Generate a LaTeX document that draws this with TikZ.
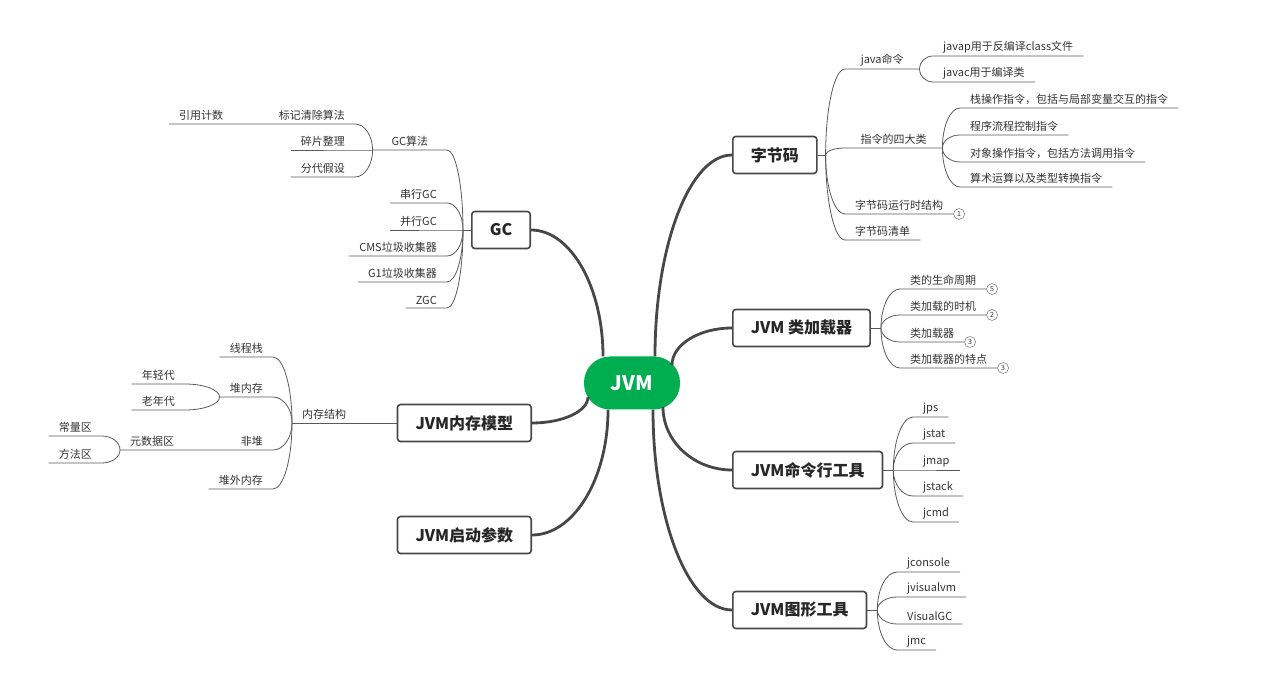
\documentclass[tikz,border=0pt]{standalone}
\usepackage{fontspec}
\setmainfont{Noto Sans CJK SC}
\usetikzlibrary{shapes,positioning,calc}

\definecolor{jvmgreen}{HTML}{00AE50}
\definecolor{trunkc}{HTML}{474747}
\definecolor{linec}{HTML}{5A5A5A}
\definecolor{textc}{HTML}{333333}

\tikzset{
  root/.style={fill=jvmgreen, rounded corners=26pt, minimum width=96pt, minimum height=53pt, text=white, font=\fontsize{20}{24}\selectfont\bfseries},
  topic/.style={draw=trunkc, line width=1.6pt, fill=white, rounded corners=3pt, minimum height=37pt, inner xsep=18pt, text=black!85, font=\fontsize{16}{19}\selectfont\bfseries},
  leaf/.style={inner xsep=10pt, inner ysep=3pt, text=textc, font=\fontsize{11}{13}\selectfont},
  leafR/.style={leaf, anchor=south west},
  leafL/.style={leaf, anchor=south east},
  num/.style={circle, draw=linec, fill=white, inner sep=0pt, minimum size=11pt, text=textc, font=\fontsize{7}{8}\selectfont},
  trunk/.style={draw=trunkc, line width=2.8pt},
  branch/.style={draw=linec, line width=0.8pt},
  fan/.style={to path={.. controls ($(\tikztostart)!0.55!(\tikztostart |- \tikztotarget)$) and ($(\tikztotarget)!0.55!(\tikztostart |- \tikztotarget)$) .. (\tikztotarget) \tikztonodes}},
}

\begin{document}
\begin{tikzpicture}[x=1pt, y=1pt]
\useasboundingbox (0,0) rectangle (1272,-684);
% 中心与主题
\node[root] (jvm) at (632,-383) {JVM};
\node[topic, anchor=west] (zjm) at (732,-155) {字节码};
\node[topic, anchor=west] (loader) at (732,-328) {JVM 类加载器};
\node[topic, anchor=west] (cmdtool) at (732,-470) {JVM命令行工具};
\node[topic, anchor=west] (guitool) at (732,-610) {JVM图形工具};
\node[topic, anchor=east] (gc) at (531,-230) {GC};
\node[topic, anchor=east] (mem) at (532,-423) {JVM内存模型};
\node[topic, anchor=east] (param) at (532,-535) {JVM启动参数};

\coordinate (s1) at ([xshift=23pt]jvm.north);
\coordinate (s2) at ([shift={(40pt,18pt)}]jvm.center);
\coordinate (s3) at ([shift={(31pt,-24pt)}]jvm.center);
\coordinate (s4) at ([xshift=21pt]jvm.south);
\coordinate (s5) at ([xshift=-29pt]jvm.north);
\coordinate (s6) at ([shift={(-44pt,-14pt)}]jvm.center);
\coordinate (s7) at ([xshift=-24pt]jvm.south);

% 主干
\draw[trunk] (s1) to[fan] (zjm.west);
\draw[trunk] (s2) to[fan] (loader.west);
\draw[trunk] (s3) to[fan] (cmdtool.west);
\draw[trunk] (s4) to[fan] (guitool.west);
\draw[trunk] (s5) to[fan] (gc.east);
\draw[trunk] (s6) to[fan] (mem.east);
\draw[trunk] (s7) to[fan] (param.east);

% 字节码
\coordinate (zjmfan) at ([xshift=8pt]zjm.east);
\node[leafR, minimum width=74pt] (javacmd) at (845,-69) {java命令};
\node[leafR, minimum width=97pt] (zlsd) at (845,-148) {指令的四大类};
\node[leafR] (yxsj) at (845,-214) {字节码运行时结构};
\node[leafR] (zjmqd) at (845,-240) {字节码清单};
\node[leafR] (javap) at (933,-56) {javap用于反编译class文件};
\node[leafR] (javac) at (933,-82) {javac用于编译类};
\node[leafR] (zl1) at (960,-108) {栈操作指令，包括与局部变量交互的指令};
\node[leafR] (zl2) at (960,-135) {程序流程控制指令};
\node[leafR] (zl3) at (960,-162) {对象操作指令，包括方法调用指令};
\node[leafR] (zl4) at (960,-187) {算术运算以及类型转换指令};
\node[num, right=0pt of yxsj.south east] (n1) {1};

\draw[branch] (zjm.east) -- (zjmfan);
\draw[branch] (zjmfan) to[fan] (javacmd.south west) -- (javacmd.south east);
\draw[branch] (zjmfan) to[fan] (zlsd.south west) -- (zlsd.south east);
\draw[branch] (zjmfan) to[fan] (yxsj.south west) -- (yxsj.south east);
\draw[branch] (zjmfan) to[fan] (zjmqd.south west) -- (zjmqd.south east);
\draw[branch] (javacmd.south east) to[fan] (javap.south west) -- (javap.south east);
\draw[branch] (javacmd.south east) to[fan] (javac.south west) -- (javac.south east);
\draw[branch] (zlsd.south east) to[fan] (zl1.south west) -- (zl1.south east);
\draw[branch] (zlsd.south east) to[fan] (zl2.south west) -- (zl2.south east);
\draw[branch] (zlsd.south east) to[fan] (zl3.south west) -- (zl3.south east);
\draw[branch] (zlsd.south east) to[fan] (zl4.south west) -- (zl4.south east);

% 类加载器
\coordinate (ldfan) at ([xshift=10pt]loader.east);
\node[leafR] (smzq) at (900,-289) {类的生命周期};
\node[leafR] (jzsj) at (900,-315) {类加载的时机};
\node[leafR] (jzq) at (900,-342) {类加载器};
\node[leafR] (jztd) at (900,-368) {类加载器的特点};
\node[num, right=0pt of smzq.south east] (n5) {5};
\node[num, right=0pt of jzsj.south east] (n2) {2};
\node[num, right=0pt of jzq.south east] (n3a) {3};
\node[num, right=0pt of jztd.south east] (n3b) {3};

\draw[branch] (loader.east) -- (ldfan);
\draw[branch] (ldfan) to[fan] (smzq.south west) -- (smzq.south east);
\draw[branch] (ldfan) to[fan] (jzsj.south west) -- (jzsj.south east);
\draw[branch] (ldfan) to[fan] (jzq.south west) -- (jzq.south east);
\draw[branch] (ldfan) to[fan] (jztd.south west) -- (jztd.south east);

% 命令行工具
\coordinate (cmdfan) at ([xshift=10pt]cmdtool.east);
\node[leafR] (jps) at (913,-417) {jps};
\node[leafR] (jstat) at (913,-443) {jstat};
\node[leafR] (jmap) at (913,-470) {jmap};
\node[leafR] (jstack) at (913,-496) {jstack};
\node[leafR] (jcmd) at (913,-522) {jcmd};

\draw[branch] (cmdtool.east) -- (cmdfan);
\draw[branch] (cmdfan) to[fan] (jps.south west) -- (jps.south east);
\draw[branch] (cmdfan) to[fan] (jstat.south west) -- (jstat.south east);
\draw[branch] (cmdfan) to[fan] (jmap.south west) -- (jmap.south east);
\draw[branch] (cmdfan) to[fan] (jstack.south west) -- (jstack.south east);
\draw[branch] (cmdfan) to[fan] (jcmd.south west) -- (jcmd.south east);

% 图形工具
\coordinate (guifan) at ([xshift=10pt]guitool.east);
\node[leafR] (jconsole) at (897,-572) {jconsole};
\node[leafR] (jvisualvm) at (897,-597) {jvisualvm};
\node[leafR] (visualgc) at (897,-624) {VisualGC};
\node[leafR] (jmc) at (897,-650) {jmc};

\draw[branch] (guitool.east) -- (guifan);
\draw[branch] (guifan) to[fan] (jconsole.south west) -- (jconsole.south east);
\draw[branch] (guifan) to[fan] (jvisualvm.south west) -- (jvisualvm.south east);
\draw[branch] (guifan) to[fan] (visualgc.south west) -- (visualgc.south east);
\draw[branch] (guifan) to[fan] (jmc.south west) -- (jmc.south east);

% GC
\coordinate (gcfan) at ([xshift=-8pt]gc.west);
\node[leafL, minimum width=74pt] (gcsf) at (447,-150) {GC算法};
\node[leafL] (cxgc) at (447,-203) {串行GC};
\node[leafL] (bxgc) at (447,-230) {并行GC};
\node[leafL] (cms) at (447,-256) {CMS垃圾收集器};
\node[leafL] (g1) at (447,-282) {G1垃圾收集器};
\node[leafL] (zgc) at (447,-308) {ZGC};
\node[leafL] (bjqc) at (355,-124) {标记清除算法};
\node[leafL] (spzl) at (355,-150) {碎片整理};
\node[leafL] (fdjs) at (355,-177) {分代假设};
\node[leafR] (yyjs) at (169,-124) {引用计数};

\draw[branch] (gc.west) -- (gcfan);
\draw[branch] (gcfan) to[fan] (gcsf.south east) -- (gcsf.south west);
\draw[branch] (gcfan) to[fan] (cxgc.south east) -- (cxgc.south west);
\draw[branch] (gcfan) to[fan] (bxgc.south east) -- (bxgc.south west);
\draw[branch] (gcfan) to[fan] (cms.south east) -- (cms.south west);
\draw[branch] (gcfan) to[fan] (g1.south east) -- (g1.south west);
\draw[branch] (gcfan) to[fan] (zgc.south east) -- (zgc.south west);
\draw[branch] (gcsf.south west) to[fan] (bjqc.south east) -- (bjqc.south west) -- (yyjs.south west);
\draw[branch] (gcsf.south west) to[fan] (spzl.south east) -- (spzl.south west);
\draw[branch] (gcsf.south west) to[fan] (fdjs.south east) -- (fdjs.south west);

% 内存模型
\node[leafR] (ncjg) at (292,-423) {内存结构};
\node[leafL] (xcz) at (273,-357) {线程栈};
\node[leafL] (dnc) at (273,-397) {堆内存};
\node[leafL] (fd) at (273,-450) {非堆};
\node[leafL] (dwnc) at (273,-489) {堆外内存};
\node[leafL] (nqd) at (185,-384) {年轻代};
\node[leafL] (lnd) at (185,-410) {老年代};
\node[leafR] (ysj) at (120,-450) {元数据区};
\node[leafL] (clq) at (102,-436) {常量区};
\node[leafL] (ffq) at (102,-463) {方法区};

\draw[branch] (mem.west) -- (ncjg.south west);
\draw[branch] (ncjg.south west) to[fan] (xcz.south east) -- (xcz.south west);
\draw[branch] (ncjg.south west) to[fan] (dnc.south east) -- (dnc.south west);
\draw[branch] (ncjg.south west) to[fan] (fd.south east) -- (fd.south west) -- (ysj.south west);
\draw[branch] (ncjg.south west) to[fan] (dwnc.south east) -- (dwnc.south west);
\draw[branch] (dnc.south west) to[fan] (nqd.south east) -- (nqd.south west);
\draw[branch] (dnc.south west) to[fan] (lnd.south east) -- (lnd.south west);
\draw[branch] (ysj.south west) to[fan] (clq.south east) -- (clq.south west);
\draw[branch] (ysj.south west) to[fan] (ffq.south east) -- (ffq.south west);
\end{tikzpicture}
\end{document}
